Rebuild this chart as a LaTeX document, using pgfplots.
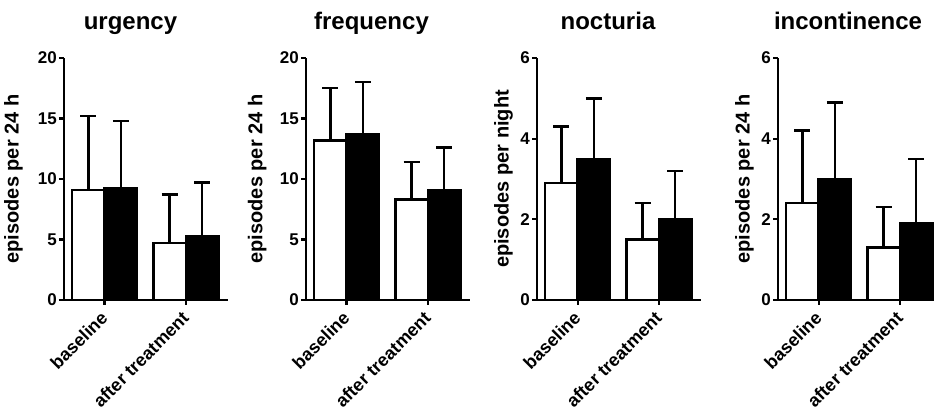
\documentclass[border=0pt]{standalone}
\usepackage{pgfplots}
\pgfplotsset{compat=1.18}
\usepackage{fontspec}
\setmainfont{Liberation Sans}

\pgfplotsset{
  panel/.style={
    scale only axis, width=164pt, height=242pt,
    anchor=south west,
    xmin=0.5, xmax=2.52, ymin=0,
    axis x line*=bottom, axis y line*=left,
    axis line style={line width=2.5pt, -},
    tick align=outside, major tick length=5pt,
    tick style={line width=2.2pt, black},
    xtick={1,2}, xticklabels={baseline, after treatment},
    xticklabel style={xshift=-5pt, yshift=-5pt, rotate=45, anchor=north east, inner sep=0pt,
      font=\fontsize{18}{18}\selectfont\bfseries},
    yticklabel style={xshift=-2pt, font=\fontsize{17}{17}\selectfont\bfseries, inner sep=0pt},
    /pgf/number format/assume math mode=true,
    ylabel style={font=\fontsize{20}{20}\selectfont\bfseries, inner sep=0pt, anchor=south},
    ybar=0pt, bar width=0.4,
    error bars/y dir=plus, error bars/y explicit,
    error bars/error bar style={line width=2.5pt, black},
    error bars/error mark options={rotate=90, mark size=8pt, line width=2.5pt, black},
  },
  open/.style={draw=black, fill=white, line width=2.5pt},
  solid/.style={draw=black, fill=black, line width=2.5pt},
}

\begin{document}
\begin{tikzpicture}
\useasboundingbox (0,0) rectangle (934pt,414pt);

% urgency
\begin{axis}[panel, at={(64pt,114pt)}, ymax=20, ytick={0,5,10,15,20},
  ylabel={episodes per 24 h}, ylabel style={at={(axis description cs:-0.25,0.5)}}]
\addplot[open] coordinates {(1,9.1) +- (0,6.1) (2,4.7) +- (0,4.0)};
\addplot[solid] coordinates {(1,9.2) +- (0,5.6) (2,5.3) +- (0,4.4)};
\end{axis}

% frequency
\begin{axis}[panel, at={(306pt,114pt)}, ymax=20, ytick={0,5,10,15,20},
  ylabel={episodes per 24 h}, ylabel style={at={(axis description cs:-0.24,0.5)}}]
\addplot[open] coordinates {(1,13.2) +- (0,4.3) (2,8.3) +- (0,3.1)};
\addplot[solid] coordinates {(1,13.7) +- (0,4.3) (2,9.1) +- (0,3.5)};
\end{axis}

% nocturia
\begin{axis}[panel, at={(537pt,114pt)}, ymax=6, ytick={0,2,4,6},
  ylabel={episodes per night}, ylabel style={at={(axis description cs:-0.146,0.5)}}]
\addplot[open] coordinates {(1,2.9) +- (0,1.4) (2,1.5) +- (0,0.9)};
\addplot[solid] coordinates {(1,3.5) +- (0,1.5) (2,2.0) +- (0,1.2)};
\end{axis}

% incontinence
\begin{axis}[panel, at={(778pt,114pt)}, ymax=6, ytick={0,2,4,6},
  ylabel={episodes per 24 h}, ylabel style={at={(axis description cs:-0.146,0.5)}}]
\addplot[open] coordinates {(1,2.4) +- (0,1.8) (2,1.3) +- (0,1.0)};
\addplot[solid] coordinates {(1,3.0) +- (0,1.9) (2,1.9) +- (0,1.6)};
\end{axis}

\begin{scope}[every node/.style={font=\fontsize{24}{24}\selectfont\bfseries, anchor=base}]
\node at (130.5pt,384.5pt) {urgency};
\node at (371.5pt,384.5pt) {frequency};
\node at (608pt,384.5pt) {nocturia};
\node at (848pt,384.5pt) {incontinence};
\end{scope}
\end{tikzpicture}
\end{document}
